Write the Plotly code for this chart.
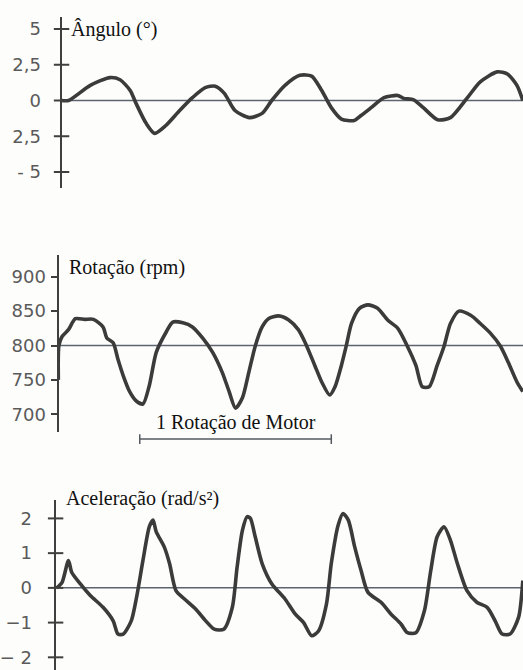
import plotly.graph_objects as go

W, H = 523, 670

# ---- data (x in crank-angle degrees) ----
angle_x = [0, 13, 54, 91, 110, 129, 140, 159, 175, 196, 222, 246, 270, 289, 306, 326, 353, 377, 395, 420,
           448, 470, 489, 507, 526, 550, 563, 582, 606, 632, 643, 662, 680, 707, 731, 763, 787, 819, 838, 856, 867]
angle_y = [0, 0, 1.06, 1.6, 1.45, 0.7, -0.2, -1.6, -2.3, -1.75, -0.7, 0.2, 0.9, 1.0, 0.5, -0.7, -1.2, -0.9, 0, 1.06,
           1.76, 1.7, 0.7, -0.5, -1.3, -1.4, -1.05, -0.5, 0.2, 0.35, 0.15, 0.05, -0.5, -1.35, -1.2, 0.2, 1.3, 2.0, 1.85, 1.06, 0]

rpm_x = [-6, -5, 1, 13, 26, 44, 60, 78, 85, 97, 106, 116, 128, 141, 153, 165, 178, 197, 209, 228, 246, 265,
         284, 302, 315, 327, 340, 352, 364, 377, 389, 408, 427, 445, 458, 476, 489, 504, 514, 526, 535, 545,
         560, 576, 594, 613, 632, 650, 666, 678, 691, 706, 719, 731, 747, 769, 787, 806, 825, 840, 856, 867]
rpm_y = [750, 800, 813, 823, 839, 838, 838, 827, 811, 804, 780, 756, 733, 719, 715, 742, 790, 820, 834, 833, 827, 811,
         790, 761, 733, 709, 724, 761, 799, 827, 839, 843, 837, 823, 804, 771, 747, 728, 740, 771, 799, 832,
         854, 859, 854, 837, 825, 799, 771, 740, 740, 771, 799, 832, 850, 844, 832, 818, 799, 775, 747, 733]

acc_x = [-9, 1, 13, 19, 35, 54, 78, 97, 106, 116, 131, 141, 153, 165, 172, 178, 193, 203, 215, 231, 252, 271,
         287, 305, 321, 330, 340, 349, 355, 364, 377, 395, 420, 439, 455, 470, 483, 498, 507, 520, 529, 539,
         551, 563, 576, 601, 619, 638, 650, 666, 682, 694, 706, 719, 731, 744, 762, 781, 800, 815, 828, 843, 859, 867]
acc_y = [0, 0.16, 0.79, 0.45, 0.12, -0.22, -0.56, -0.95, -1.33, -1.33, -0.95, -0.27, 0.79, 1.76, 1.95, 1.61, 1.18, 0.70,
         -0.08, -0.32, -0.61, -0.95, -1.19, -1.19, -0.56, 0.60, 1.66, 2.05, 2.0, 1.47, 0.70, 0.12, -0.32, -0.75, -1.0,
         -1.38, -1.24, -0.46, 0.70, 1.81, 2.14, 1.95, 1.18, 0.50, -0.13, -0.42, -0.75, -1.04, -1.29, -1.29, -0.66, 0.50,
         1.47, 1.76, 1.37, 0.70, -0.08, -0.42, -0.56, -0.95, -1.33, -1.33, -0.85, 0.21]

angle_ticks = [5, 2.5, 0, -2.5, -5]
angle_ticktext = ["5", "2,5", "0", "2,5", "- 5"]
rpm_ticks = [900, 850, 800, 750, 700]
acc_ticks = [2, 1, 0, -1, -2]
acc_ticktext = ["2", "1", "0", "\u22121", "\u2212 2"]

titles = ["\u00c2ngulo (\u00b0)", "Rota\u00e7\u00e3o (rpm)", "Acelera\u00e7\u00e3o (rad/s\u00b2)"]
refs = [0, 800, 0]
rotation_start, rotation_len = 147, 360
rotation_level = 664
rotation_label = "1 Rota\u00e7\u00e3o de Motor"

# ---- layout helpers (pixel geometry of the page) ----
DEG_PER_PX = 360 / 193.0
def px2deg(px):
    return (px - 58) * DEG_PER_PX

panels = [
    dict(ax=58, top=17, bot=188, yr=[-6.12, 5.84]),
    dict(ax=55, top=255, bot=432, yr=[674.3, 931.5]),
    dict(ax=52, top=500, bot=670, yr=[-2.365, 2.53]),
]

fig = go.Figure()
series = [(angle_x, angle_y), (rpm_x, rpm_y), (acc_x, acc_y)]
tick_sets = [(angle_ticks, angle_ticktext), (rpm_ticks, [str(v) for v in rpm_ticks]), (acc_ticks, acc_ticktext)]
line_col = "#3b3b3b"
ref_col = "#5c6470"
axis_col = "#3f3f3f"
tick_font = dict(family="DejaVu Sans", size=18, color="#5a5a5a")
title_font = dict(family="Liberation Serif", size=20, color="#111111")

for i, (p, (sx, sy)) in enumerate(zip(panels, series)):
    n = "" if i == 0 else str(i + 1)
    xr = [px2deg(p["ax"]), px2deg(W)]
    tv, tt = tick_sets[i]
    fig.add_trace(go.Scatter(x=xr, y=[refs[i], refs[i]], mode="lines",
                             line=dict(color=ref_col, width=1.5),
                             xaxis="x" + n, yaxis="y" + n, hoverinfo="skip"))
    fig.add_trace(go.Scatter(x=sx, y=sy, mode="lines",
                             line=dict(color=line_col, width=3.6, shape="spline", smoothing=0.7),
                             xaxis="x" + n, yaxis="y" + n))
    crossing = i != 1
    if crossing:
        # tick marks that cross the axis line
        fig.add_trace(go.Scatter(x=[xr[0]] * len(tv), y=tv, mode="markers",
                                 marker=dict(symbol="line-ew", size=11,
                                             line=dict(color=axis_col, width=2)),
                                 xaxis="x" + n, yaxis="y" + n, cliponaxis=False, hoverinfo="skip"))
    dom_y = [1 - p["bot"] / H, 1 - p["top"] / H]
    fig.layout["xaxis" + n] = dict(domain=[p["ax"] / W, 1], range=xr, visible=False,
                                   anchor="y" + n, fixedrange=True)
    fig.layout["yaxis" + n] = dict(domain=dom_y, range=p["yr"], anchor="x" + n,
                                   showline=True, linecolor=axis_col, linewidth=2,
                                   showgrid=False, zeroline=False,
                                   ticks="" if crossing else "outside", ticklen=6,
                                   tickwidth=2, tickcolor=axis_col,
                                   tickvals=tv, ticktext=tt, tickfont=tick_font,
                                   ticklabelstandoff=[15, 1, 18][i],
                                   fixedrange=True)
    ty = [29, 267, 498][i]
    fig.add_annotation(x=(p["ax"] + 8) / W, y=1 - ty / H, xref="paper", yref="paper",
                       text=titles[i], showarrow=False, xanchor="left", yanchor="middle",
                       font=title_font)

# invisible helper axis: same rpm scale as panel 2, extended below it for the bracket
rpm_px = (panels[1]["bot"] - panels[1]["top"]) / (panels[1]["yr"][1] - panels[1]["yr"][0])
ext_bot = 452
fig.layout["yaxis4"] = dict(domain=[1 - ext_bot / H, 1 - panels[1]["top"] / H],
                            range=[panels[1]["yr"][0] - (ext_bot - panels[1]["bot"]) / rpm_px,
                                   panels[1]["yr"][1]],
                            visible=False, anchor="x2", fixedrange=True)

fig.add_trace(go.Scatter(x=[rotation_start, rotation_start + rotation_len],
                         y=[rotation_level, rotation_level],
                         mode="lines+markers", line=dict(color="#555a60", width=1.5),
                         marker=dict(symbol="line-ns", size=7, line=dict(color="#555a60", width=1.5)),
                         xaxis="x2", yaxis="y4", hoverinfo="skip"))
fig.add_annotation(x=rotation_start + rotation_len / 2, y=rotation_level, xref="x2", yref="y4",
                   text=rotation_label, showarrow=False, yanchor="bottom", yshift=3,
                   font=dict(family="Liberation Serif", size=20, color="#111111"))

fig.update_layout(width=W, height=H, margin=dict(l=0, r=0, t=0, b=0),
                  paper_bgcolor="#fdfdfb", plot_bgcolor="rgba(0,0,0,0)",
                  showlegend=False)
fig.write_html("out.html")
